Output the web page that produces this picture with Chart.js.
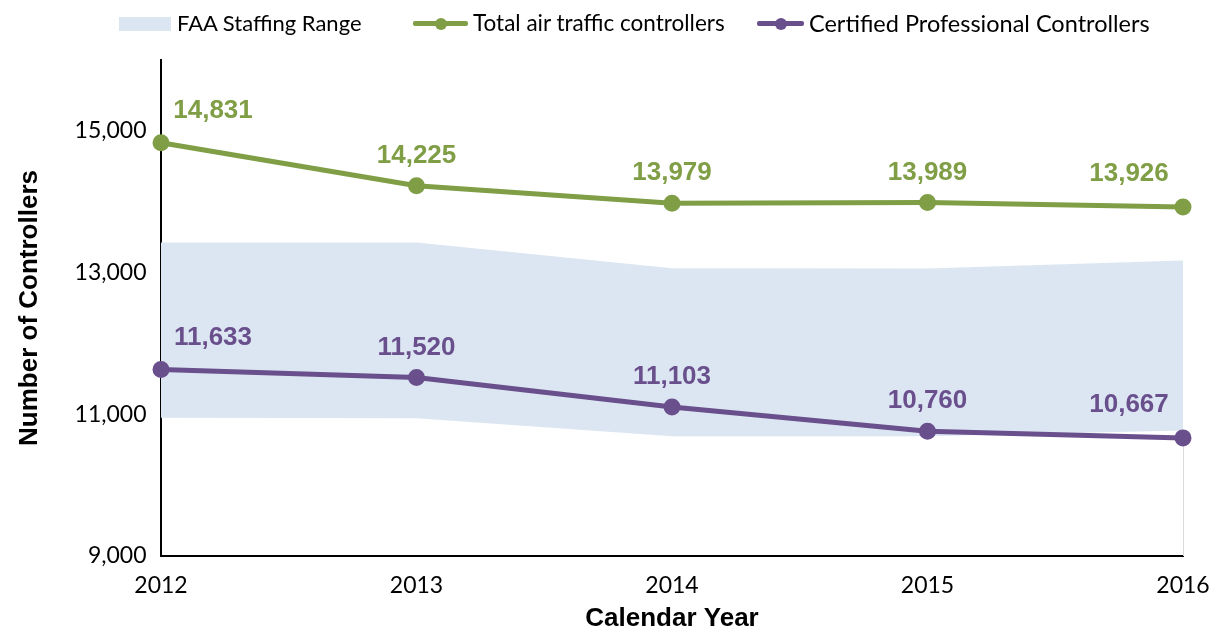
<!DOCTYPE html>
<html>
<head>
<meta charset="utf-8">
<title>Air traffic controllers 2012-2016</title>
<script src="https://cdn.jsdelivr.net/npm/chart.js@4.4.1/dist/chart.umd.min.js"></script>
<style>
  body { margin: 0; background: #fff; }
  #wrap { position: relative; width: 1210px; height: 634px; }
  #legend { position: absolute; top: 0; left: 0; width: 1210px; height: 45px;
            font-family: Lato, "Open Sans", sans-serif; font-size: 22px; color: #000; }
  #legend .item { position: absolute; top: 10px; height: 26px; line-height: 26px; white-space: nowrap; }
  #legend .swatch { position: absolute; }
</style>
</head>
<body>
<div id="wrap">
  <canvas id="controllersChart" width="1210" height="634"></canvas>
  <div id="legend"></div>
</div>
<script>
const years = ['2012', '2013', '2014', '2015', '2016'];
const totalControllers = [14831, 14225, 13979, 13989, 13926];
const cpcControllers = [11633, 11520, 11103, 10760, 10667];
const staffingLow = [10950, 10945, 10690, 10690, 10770];
const staffingHigh = [13425, 13425, 13062, 13058, 13170];
const yTicks = [9000, 11000, 13000, 15000];

const green = '#7f9e45';
const purple = '#6a4f8d';
const bandColor = '#dce6f2';

// legend drawn as html, positions
const legendItems = [
    {label: 'FAA Staffing Range', kind: 'band', color: bandColor, left: 119, textLeft: 177, size: 22},
    {label: 'Total air traffic controllers', kind: 'line', color: green, left: 413, textLeft: 473, size: 22.5},
    {label: 'Certified Professional Controllers', kind: 'line', color: purple, left: 757, textLeft: 809, size: 23.5},
];
const legendEl = document.getElementById('legend');
legendItems.forEach(item => {
    const sw = document.createElement('div');
    sw.className = 'swatch';
    if (item.kind === 'band') {
        Object.assign(sw.style, {left: item.left + 'px', top: '17px', width: '52px', height: '14px', background: item.color});
    } else {
        const w = item.textLeft - item.left - 5;
        Object.assign(sw.style, {left: item.left + 'px', top: '21px', width: w + 'px', height: '5px', background: item.color, borderRadius: '2px'});
        const dot = document.createElement('div');
        Object.assign(dot.style, {position: 'absolute', left: (w / 2 - 6) + 'px', top: '-3.5px', width: '12px', height: '12px', borderRadius: '50%', background: item.color});
        sw.appendChild(dot);
    }
    legendEl.appendChild(sw);
    const txt = document.createElement('div');
    txt.className = 'item';
    txt.style.left = item.textLeft + 'px';
    txt.style.fontSize = item.size + 'px';
    txt.textContent = item.label;
    legendEl.appendChild(txt);
});

const fmt = v => v.toLocaleString('en-US');

const valueLabels = {
    id: 'valueLabels',
    afterDatasetsDraw(chart) {
        const ctx = chart.ctx;
        ctx.save();
        ctx.font = 'bold 26px "Liberation Sans", Arial, sans-serif';
        ctx.textAlign = 'center';
        ctx.textBaseline = 'middle';
        [0, 1].forEach(di => {
            const ds = chart.data.datasets[di];
            const meta = chart.getDatasetMeta(di);
            ctx.fillStyle = ds.borderColor;
            meta.data.forEach((pt, i) => {
                let dx = 0, dy = -30;
                if (i === 0) { dx = 52; dy = -32; }
                if (i === meta.data.length - 1) { dx = -54; dy = -33; }
                ctx.fillText(fmt(ds.data[i]), pt.x + dx, pt.y + dy);
            });
        });
        ctx.restore();
    }
};

// thin edge on the right side of the lower (hidden) area, as in the excel original
const bandEdge = {
    id: 'bandEdge',
    beforeDatasetsDraw(chart) {
        const x = chart.scales.x.getPixelForValue(years.length - 1);
        const y0 = chart.scales.y.getPixelForValue(staffingLow[staffingLow.length - 1]);
        const y1 = chart.scales.y.getPixelForValue(9000);
        const ctx = chart.ctx;
        ctx.save();
        ctx.strokeStyle = '#d9d9d9';
        ctx.lineWidth = 1;
        ctx.beginPath();
        ctx.moveTo(x + 0.5, y0);
        ctx.lineTo(x + 0.5, y1);
        ctx.stroke();
        ctx.restore();
    }
};

const ctx = document.getElementById('controllersChart');
const chart = new Chart(ctx, {
    type: 'line',
    data: {
        labels: years,
        datasets: [
            {
                label: 'Total air traffic controllers',
                data: totalControllers,
                borderColor: green,
                backgroundColor: green,
                borderWidth: 5,
                pointRadius: 6,
                pointHoverRadius: 6,
                fill: false,
                tension: 0
            },
            {
                label: 'Certified Professional Controllers',
                data: cpcControllers,
                borderColor: purple,
                backgroundColor: purple,
                borderWidth: 5,
                pointRadius: 6,
                pointHoverRadius: 6,
                fill: false,
                tension: 0
            },
            {
                label: 'staffing low',
                data: staffingLow,
                borderWidth: 0,
                pointRadius: 0,
                fill: false
            },
            {
                label: 'FAA Staffing Range',
                data: staffingHigh,
                borderWidth: 0,
                pointRadius: 0,
                backgroundColor: bandColor,
                fill: '-1'
            }
        ]
    },
    options: {
        responsive: false,
        animation: false,
        layout: {padding: {top: 60, right: 27, left: 0, bottom: 0}},
        plugins: {
            legend: {display: false},
            tooltip: {enabled: false}
        },
        scales: {
            x: {
                offset: false,
                grid: {display: false, drawTicks: false},
                border: {color: '#000', width: 2},
                ticks: {
                    color: '#000',
                    padding: 16,
                    maxRotation: 0,
                    font: {family: 'Lato, "Open Sans", sans-serif', size: 23}
                },
                title: {
                    display: true,
                    text: 'Calendar Year',
                    color: '#000',
                    padding: {top: 2, bottom: 0},
                    font: {family: '"Liberation Sans", Arial, sans-serif', size: 26, weight: 'bold'}
                },
                afterFit(scale) {
                    scale.height = 78;
                    scale.paddingLeft = 0;
                    scale.paddingRight = 0;
                }
            },
            y: {
                min: 9000,
                max: 16000,
                grid: {display: false, drawTicks: false},
                border: {color: '#000', width: 2},
                afterBuildTicks(scale) { scale.ticks = yTicks.map(v => ({value: v})); },
                ticks: {
                    color: '#000',
                    padding: 14.5,
                    callback: v => fmt(v),
                    font: {family: 'Lato, "Open Sans", sans-serif', size: 23}
                },
                title: {
                    display: true,
                    text: 'Number of Controllers',
                    color: '#000',
                    padding: {top: 14, bottom: 0},
                    font: {family: '"Liberation Sans", Arial, sans-serif', size: 26, weight: 'bold'}
                },
                afterFit(scale) { scale.width = 161; }
            }
        }
    },
    plugins: [bandEdge, valueLabels]
});
</script>
</body>
</html>
